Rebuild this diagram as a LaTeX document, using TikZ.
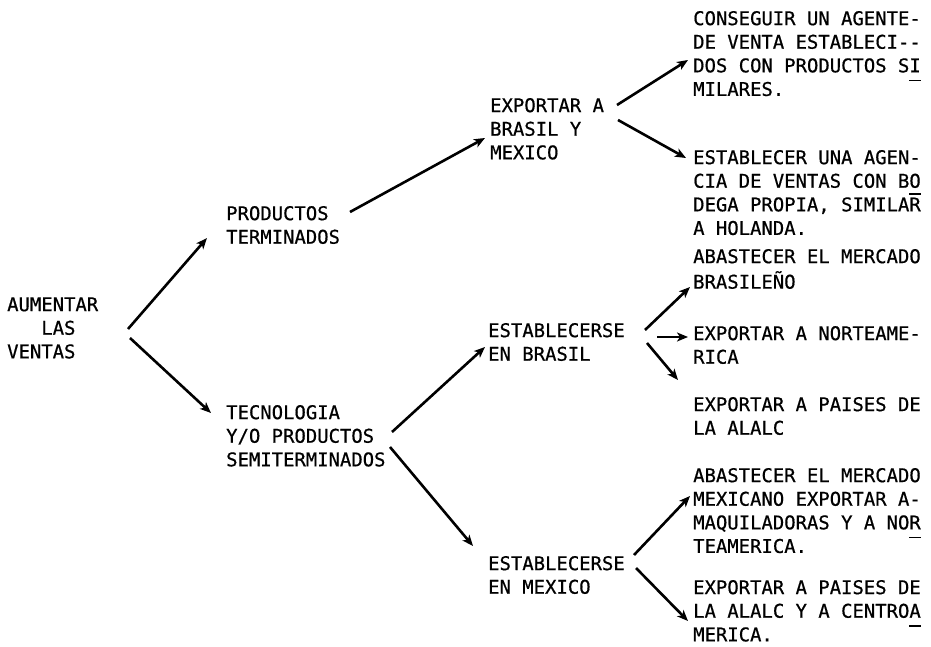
\documentclass[tikz,border=0pt]{standalone}
\usepackage{fontspec}
\newfontfamily\twfont[FakeBold=0.6]{DejaVu Sans Mono}
\usetikzlibrary{arrows.meta}
\newcommand{\ulmark}[1]{\rlap{\rule[-9pt]{0.6em}{1.6pt}}#1}
\newcommand{\olmark}[1]{\rlap{\rule[16.5pt]{0.6em}{1.6pt}}#1}
\tikzset{
  txt/.style={font=\twfont\fontsize{18.9pt}{23.6pt}\selectfont, align=left, inner sep=0pt, anchor=north west, text=black},
  arr/.style={line width=2.6pt, -{Stealth[length=11pt,width=9pt,inset=3pt]}, black}
}
\begin{document}
\begin{tikzpicture}[x=1pt,y=-1pt]
\fill[white] (0,0) rectangle (931,647);
\useasboundingbox (0,0) rectangle (931,647);

% text nodes
\node[txt] (root) at (7,294.4) {\strut AUMENTAR\\\hphantom{AAA}LAS\\VENTAS};
\node[txt] (prod) at (226,203.4) {\strut PRODUCTOS\\TERMINADOS};
\node[txt] (tec) at (226,402.4) {\strut TECNOLOGIA\\Y/O PRODUCTOS\\SEMITERMINADOS};
\node[txt] (exp) at (490,95.4) {\strut EXPORTAR A\\BRASIL Y\\MEXICO};
\node[txt] (ebr) at (488,320.4) {\strut ESTABLECERSE\\EN BRASIL};
\node[txt] (emx) at (488,553.4) {\strut ESTABLECERSE\\EN MEXICO};
\node[txt] (r1) at (693,8.4) {\strut CONSEGUIR UN AGENTE-\\DE VENTA ESTABLECI--\\DOS CON PRODUCTOS S\ulmark{I}\\MILARES.};
\node[txt] (r2) at (693,147.4) {\strut ESTABLECER UNA AGEN-\\CIA DE VENTAS CON BO\\DEGA PROPIA, SIMILA\olmark{R}\\A HOLANDA.};
\node[txt] (r3) at (693,246.4) {\strut ABASTECER EL MERCADO\\BRASILEÑO};
\node[txt] (r4) at (693,323.4) {\strut EXPORTAR A NORTEAME-\\RICA};
\node[txt] (r5) at (693,394.4) {\strut EXPORTAR A PAISES DE\\LA ALALC};
\node[txt] (r6) at (693,465.4) {\strut ABASTECER EL MERCADO\\MEXICANO EXPORTAR A-\\MAQUILADORAS Y A NO\ulmark{R}\\TEAMERICA.};
\node[txt] (r7) at (693,577.4) {\strut EXPORTAR A PAISES DE\\LA ALALC Y A CENTRO\ulmark{A}\\MERICA.};

% connector end points
\coordinate (rootU) at (128,329);
\coordinate (rootD) at (130,338);
\coordinate (prodIn) at (207,238);
\coordinate (tecIn) at (211,413);
\coordinate (prodOut) at (350,212);
\coordinate (expIn) at (485,138);
\coordinate (tecU) at (392,432);
\coordinate (tecD) at (390,447);
\coordinate (ebrIn) at (485,347);
\coordinate (emxIn) at (473,546);
\coordinate (expU) at (617,105);
\coordinate (expD) at (618,120);
\coordinate (r1In) at (688,60);
\coordinate (r2In) at (686,158);
\coordinate (ebrU) at (645,330);
\coordinate (ebrM) at (657,337);
\coordinate (ebrD) at (647,343);
\coordinate (r3In) at (690,287);
\coordinate (r4In) at (688,337);
\coordinate (r5In) at (678,380);
\coordinate (emxU) at (634,555);
\coordinate (emxD) at (636,568);
\coordinate (r6In) at (690,496);
\coordinate (r7In) at (688,621);

% connectors
\draw[arr] (rootU) -- (prodIn);
\draw[arr] (rootD) -- (tecIn);
\draw[arr] (prodOut) -- (expIn);
\draw[arr] (tecU) -- (ebrIn);
\draw[arr] (tecD) -- (emxIn);
\draw[arr] (expU) -- (r1In);
\draw[arr] (expD) -- (r2In);
\draw[arr] (ebrU) -- (r3In);
\draw[arr] (ebrM) -- (r4In);
\draw[arr] (ebrD) -- (r5In);
\draw[arr] (emxU) -- (r6In);
\draw[arr] (emxD) -- (r7In);
\end{tikzpicture}
\end{document}
